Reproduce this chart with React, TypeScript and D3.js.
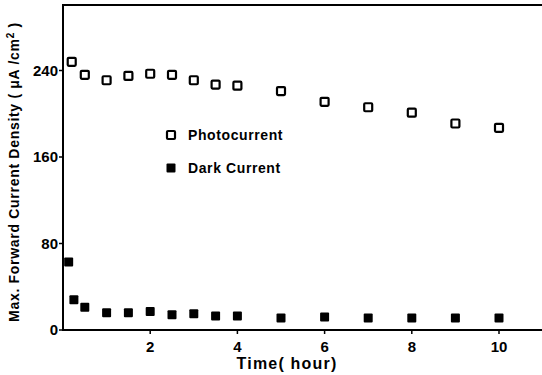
import React from "react";
import * as d3 from "d3";

const photoTime = [0.2, 0.5, 1, 1.5, 2, 2.5, 3, 3.5, 4, 5, 6, 7, 8, 9, 10];
const photoValue = [248, 236, 231, 235, 237, 236, 231, 227, 226, 221, 211, 206, 201, 191, 187];
const darkTime = [0.13, 0.25, 0.5, 1, 1.5, 2, 2.5, 3, 3.5, 4, 5, 6, 7, 8, 9, 10];
const darkValue = [63, 28, 21, 16, 16, 17, 14, 15, 13, 13, 11, 12, 11, 11, 11, 11];
const xTicks = [2, 4, 6, 8, 10];
const yTicks = [0, 80, 160, 240];
const legendLabels = ["Photocurrent", "Dark Current"];

const W = 542, H = 375;
const left = 63, right = 542, top = 5, bottom = 330;

export default function App() {
  const x = d3.scaleLinear().domain([0, 11]).range([left, left + 11 * 43.6]);
  const y = d3.scaleLinear().domain([0, 300]).range([bottom, bottom - 300 * (86.5 / 80)]);
  const font = "'Liberation Sans', Arial, sans-serif";
  const s = 8;
  return (
    <svg width={W} height={H} style={{ position: "absolute", left: 0, top: 0, background: "#fff" }}>
      <g fontFamily={font} fontWeight="bold" fill="#000">
        <line x1={left} y1={top} x2={left} y2={bottom} stroke="#000" strokeWidth={2} />
        <line x1={left - 1} y1={bottom} x2={right} y2={bottom} stroke="#000" strokeWidth={2} />
        <line x1={left - 1} y1={top} x2={right} y2={top} stroke="#000" strokeWidth={2} />
        {xTicks.map((t) => (
          <g key={"x" + t}>
            <line x1={x(t)} x2={x(t)} y1={bottom} y2={bottom + 4} stroke="#000" strokeWidth={1.5} />
            <text x={x(t)} y={bottom + 22} textAnchor="middle" fontSize={15}>{t}</text>
          </g>
        ))}
        {yTicks.map((t) => (
          <g key={"y" + t}>
            <line x1={left - 4} x2={left} y1={y(t)} y2={y(t)} stroke="#000" strokeWidth={1.5} />
            <text x={left - 5} y={y(t) + 5} textAnchor="end" fontSize={15}>{t}</text>
          </g>
        ))}
        <text x={287} y={369} textAnchor="middle" fontSize={16} letterSpacing={1.2}>Time( hour)</text>
        <text transform={`translate(19,172) rotate(-90)`} textAnchor="middle" fontSize={14} letterSpacing={0.7}>
          Max. Forward Current Density ( μA /cm<tspan dy={-5} fontSize={10}>2</tspan><tspan dy={5}> )</tspan>
        </text>
        {photoTime.map((t, i) => (
          <rect key={"p" + i} x={x(t) - s / 2} y={y(photoValue[i]) - s / 2} width={s} height={s}
            fill="#fff" stroke="#000" strokeWidth={2.2} rx={1} />
        ))}
        {darkTime.map((t, i) => (
          <rect key={"d" + i} x={x(t) - 4.5} y={y(darkValue[i]) - 4.5} width={9} height={9} fill="#000" rx={1} />
        ))}
        <rect x={167} y={131} width={s} height={s} fill="#fff" stroke="#000" strokeWidth={2.2} rx={1} />
        <text x={188} y={140} fontSize={14} letterSpacing={0.6}>{legendLabels[0]}</text>
        <rect x={166.5} y={163.5} width={9} height={9} fill="#000" rx={1} />
        <text x={188} y={173} fontSize={14} letterSpacing={0.6}>{legendLabels[1]}</text>
      </g>
    </svg>
  );
}
